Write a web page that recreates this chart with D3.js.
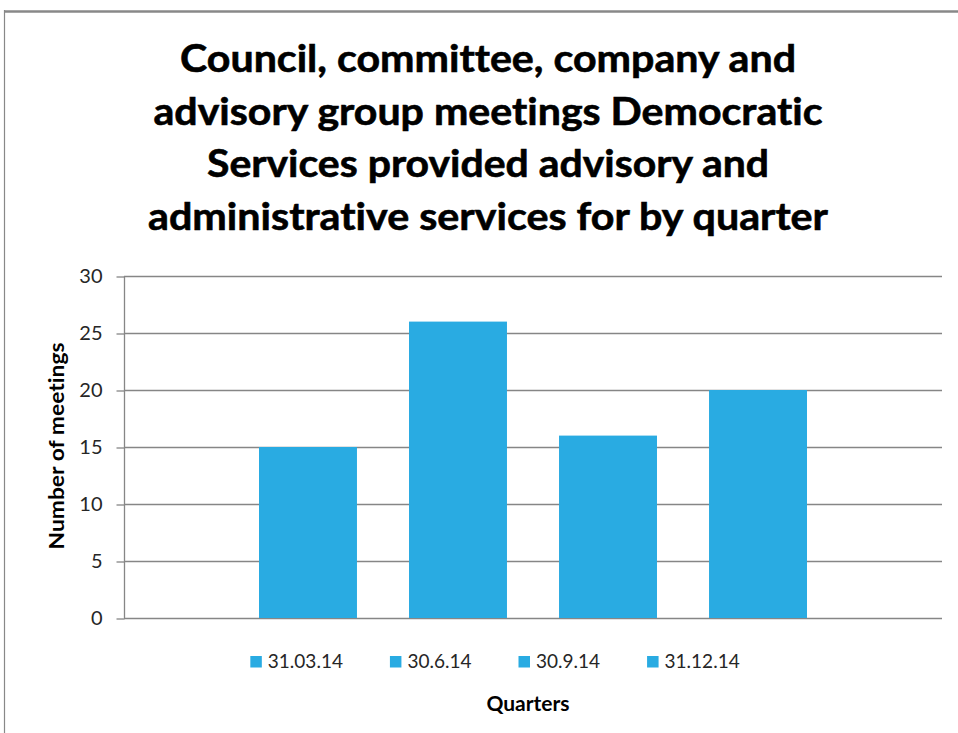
<!DOCTYPE html>
<html>
<head>
<meta charset="utf-8">
<script src="https://cdn.jsdelivr.net/npm/d3@7"></script>
<style>
  html, body { margin: 0; padding: 0; background: #fff; overflow: hidden; }
  svg { display: block; }
  text { font-variant-ligatures: none; font-feature-settings: "liga" 0; }
</style>
</head>
<body>
<svg id="chart" width="958" height="733"></svg>
<script>
// Meetings per quarter (each quarter is its own series in one cluster)
const quarters = ["31.03.14", "30.6.14", "30.9.14", "31.12.14"];
const meetings = [15, 26, 16, 20];
const yTicks = [0, 5, 10, 15, 20, 25, 30];
const titleLines = [
  "Council, committee, company and",
  "advisory group meetings Democratic",
  "Services provided advisory and",
  "administrative services for by quarter"
];
const titleWidths = [616, 669, 562, 680];
const yAxisTitle = "Number of meetings";
const xAxisTitle = "Quarters";

const barColor = "#29abe2";
const gridColor = "#868686";
const fontFamily = "Lato, 'Open Sans', 'Liberation Sans', sans-serif";

const svg = d3.select("#chart");

// outer frame of the chart area
svg.append("line").attr("x1", 4.5).attr("x2", 958).attr("y1", 11.5).attr("y2", 11.5)
  .attr("stroke", "#888").attr("stroke-width", 2.5);
svg.append("line").attr("x1", 4.5).attr("x2", 4.5).attr("y1", 10).attr("y2", 733)
  .attr("stroke", "#888").attr("stroke-width", 1.2);

// plot area
const plot = { left: 124, right: 942, top: 276, bottom: 618 };

const y = d3.scaleLinear().domain([0, 30]).range([plot.bottom, plot.top]);
const x = d3.scaleBand().domain(quarters)
  .range([plot.left, plot.right])
  .paddingInner(0.347).paddingOuter(0.9);

// title
const title = svg.append("g").attr("font-family", fontFamily)
  .attr("font-weight", "bold").attr("font-size", 38).attr("fill", "#000")
  .attr("stroke", "#000").attr("stroke-width", 0.6);
titleLines.forEach((t, i) => {
  title.append("text")
    .attr("x", 488).attr("y", 72 + i * 52.5)
    .attr("text-anchor", "middle")
    .attr("textLength", titleWidths[i])
    .attr("lengthAdjust", "spacingAndGlyphs")
    .text(t);
});

// horizontal gridlines
svg.append("g").selectAll("line").data(yTicks).join("line")
  .attr("x1", plot.left).attr("x2", plot.right)
  .attr("y1", d => Math.round(y(d)) + 0.5).attr("y2", d => Math.round(y(d)) + 0.5)
  .attr("stroke", gridColor).attr("stroke-width", 1.3);

// y axis with outer ticks
const yAxis = d3.axisLeft(y).tickValues(yTicks).tickSize(8).tickPadding(14);
const yg = svg.append("g").attr("transform", `translate(${plot.left + 0.5},0.5)`).call(yAxis);
yg.select(".domain").attr("stroke", gridColor).attr("stroke-width", 1.3).attr("d", `M0,${plot.top - 0.5}V${plot.bottom}`);
yg.selectAll(".tick line").attr("stroke", gridColor).attr("stroke-width", 1.3);
yg.selectAll(".tick text").attr("font-family", fontFamily).attr("font-size", 20)
  .attr("fill", "#262626");

// bars
svg.append("g").selectAll("rect").data(quarters).join("rect")
  .attr("x", d => x(d))
  .attr("width", x.bandwidth())
  .attr("y", (d, i) => y(meetings[i]))
  .attr("height", (d, i) => y(0) - y(meetings[i]))
  .attr("fill", barColor);

// y axis title
svg.append("text")
  .attr("transform", "translate(64,446) rotate(-90)")
  .attr("text-anchor", "middle")
  .attr("font-family", fontFamily).attr("font-weight", "bold").attr("font-size", 21)
  .attr("textLength", 207).attr("lengthAdjust", "spacingAndGlyphs")
  .attr("fill", "#000")
  .text(yAxisTitle);

// legend
const legend = svg.append("g").attr("font-family", fontFamily).attr("font-size", 19).attr("fill", "#262626");
const items = legend.selectAll("g").data(quarters).join("g");
items.append("rect").attr("width", 11.5).attr("height", 11.5).attr("y", -11.5).attr("fill", barColor);
items.append("text").attr("x", 17.5).attr("y", 0).text(d => d);
let cursor = 0;
const positions = [];
items.each(function () {
  const w = d3.select(this).select("text").node().getComputedTextLength();
  positions.push(cursor);
  cursor += 17.5 + w + 47;
});
const totalW = cursor - 47;
const legendX = 495 - totalW / 2;
items.attr("transform", (d, i) => `translate(${legendX + positions[i]},667.5)`);

// x axis title
svg.append("text")
  .attr("x", 528).attr("y", 711)
  .attr("text-anchor", "middle")
  .attr("font-family", fontFamily).attr("font-weight", "bold").attr("font-size", 21)
  .attr("fill", "#000")
  .text(xAxisTitle);
</script>
</body>
</html>
